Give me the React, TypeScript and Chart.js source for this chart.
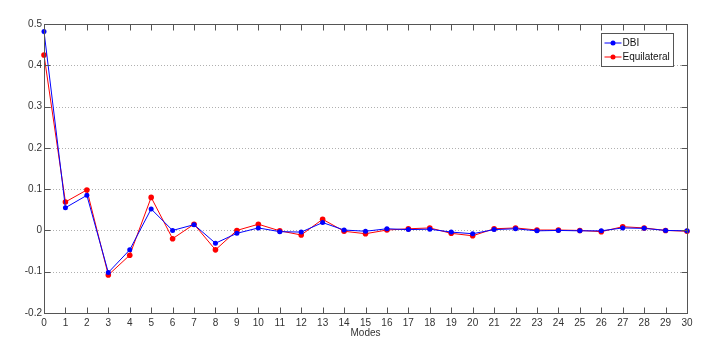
import React, { useEffect, useRef } from "react";
import { Chart, registerables } from "chart.js";

Chart.register(...registerables);

const modes = [0,1,2,3,4,5,6,7,8,9,10,11,12,13,14,15,16,17,18,19,20,21,22,23,24,25,26,27,28,29,30];
const dbi = [0.482,0.055,0.085,-0.102,-0.047,0.052,0.0,0.014,-0.031,-0.007,0.006,-0.003,-0.004,0.019,0.001,-0.002,0.004,0.002,0.003,-0.004,-0.008,0.002,0.004,-0.001,0.0,-0.001,-0.001,0.006,0.005,0.0,-0.001];
const equilateral = [0.425,0.069,0.098,-0.108,-0.060,0.080,-0.020,0.015,-0.047,0.0,0.015,-0.001,-0.011,0.027,-0.002,-0.008,0.001,0.004,0.006,-0.007,-0.013,0.004,0.006,0.001,0.001,0.0,-0.003,0.009,0.006,0.0,-0.002];
const yTicks = [-0.2,-0.1,0,0.1,0.2,0.3,0.4,0.5];
const xTitle = "Modes";

const FONT = "'Liberation Sans', Arial, sans-serif";
const TEXT = "#333";

const framePlugin = {
  id: "frame",
  beforeDatasetsDraw(chart: any) {
    const { ctx, chartArea: a, scales } = chart;
    const y = scales.y;
    ctx.save();
    ctx.strokeStyle = "#b0b0b0";
    ctx.lineWidth = 1;
    ctx.setLineDash([1, 2]);
    yTicks.forEach((v) => {
      if (v <= -0.2 || v >= 0.5) return;
      const py = Math.round(y.getPixelForValue(v)) + 0.5;
      ctx.beginPath();
      ctx.moveTo(a.left, py);
      ctx.lineTo(a.right, py);
      ctx.stroke();
    });
    ctx.restore();
  },
  afterDraw(chart: any) {
    const { ctx, chartArea: a, scales } = chart;
    const x = scales.x, y = scales.y;
    ctx.save();
    ctx.strokeStyle = "#555";
    ctx.lineWidth = 1;
    const L = Math.round(a.left) + 0.5, R = Math.round(a.right) + 0.5;
    const T = Math.round(a.top) + 0.5, B = Math.round(a.bottom) + 0.5;
    ctx.strokeRect(L, T, R - L, B - T);
    const tl = 6;
    ctx.beginPath();
    modes.forEach((m) => {
      const px = Math.round(x.getPixelForValue(m)) + 0.5;
      ctx.moveTo(px, B); ctx.lineTo(px, B - tl);
      ctx.moveTo(px, T); ctx.lineTo(px, T + tl);
    });
    yTicks.forEach((v) => {
      const py = Math.round(y.getPixelForValue(v)) + 0.5;
      ctx.moveTo(L, py); ctx.lineTo(L + tl, py);
      ctx.moveTo(R, py); ctx.lineTo(R - tl, py);
    });
    ctx.stroke();

    // legend
    const lx = 601.5, ly = 33.5, lw = 72, lh = 33;
    ctx.fillStyle = "#fff";
    ctx.fillRect(lx, ly, lw, lh);
    ctx.strokeStyle = "#555";
    ctx.strokeRect(lx, ly, lw, lh);
    chart.data.datasets.forEach((ds: any, i: number) => {
      const cy = ly + 9.5 + i * 14;
      ctx.strokeStyle = ds.borderColor;
      ctx.lineWidth = 1;
      ctx.beginPath();
      ctx.moveTo(lx + 3, cy);
      ctx.lineTo(lx + 20, cy);
      ctx.stroke();
      ctx.fillStyle = ds.backgroundColor;
      ctx.beginPath();
      ctx.arc(lx + 11.5, cy, 2.5, 0, Math.PI * 2);
      ctx.fill();
      ctx.fillStyle = "#111";
      ctx.font = `10px ${FONT}`;
      ctx.textBaseline = "middle";
      ctx.textAlign = "left";
      ctx.fillText(ds.label, lx + 21, cy + 0.5);
    });
    ctx.restore();
  },
};

export default function App() {
  const ref = useRef<HTMLCanvasElement>(null);
  useEffect(() => {
    document.body.style.margin = "0";
    const mk = (arr: number[]) => modes.map((m, i) => ({ x: m, y: arr[i] }));
    const chart = new Chart(ref.current!, {
      type: "line",
      data: {
        datasets: [
          {
            label: "DBI",
            data: mk(dbi),
            borderColor: "#0000ff",
            backgroundColor: "#0000ff",
            borderWidth: 1,
            pointRadius: 2.5,
            pointBorderWidth: 0,
            pointHoverRadius: 2.5,
            clip: false,
          },
          {
            label: "Equilateral",
            data: mk(equilateral),
            borderColor: "#ff0000",
            backgroundColor: "#ff0000",
            borderWidth: 1,
            pointRadius: 2.8,
            pointBorderWidth: 0,
            pointHoverRadius: 2.8,
            clip: false,
          },
        ],
      },
      plugins: [framePlugin],
      options: {
        animation: false,
        responsive: false,
        maintainAspectRatio: false,
        layout: { padding: { left: 0, right: 19, top: 24, bottom: 15 } },
        plugins: { legend: { display: false }, tooltip: { enabled: false } },
        scales: {
          x: {
            type: "linear",
            min: 0,
            max: 30,
            afterBuildTicks: (s: any) => { s.ticks = modes.map((m) => ({ value: m })); },
            afterFit: (s: any) => { s.height = 26; },
            grid: { display: false, drawTicks: false },
            border: { display: false },
            ticks: { color: TEXT, font: { family: FONT, size: 10 }, padding: 4, maxRotation: 0, autoSkip: false },
            title: { display: true, text: xTitle, color: TEXT, font: { family: FONT, size: 10 }, padding: { top: 0, bottom: 0 } },
          },
          y: {
            type: "linear",
            min: -0.2,
            max: 0.5,
            afterBuildTicks: (s: any) => { s.ticks = yTicks.map((v) => ({ value: v })); },
            afterFit: (s: any) => { s.width = 44; },
            grid: { display: false, drawTicks: false },
            border: { display: false },
            ticks: {
              color: TEXT,
              font: { family: FONT, size: 10 },
              padding: 2,
              callback: (v: any) => { const r = Math.round(Number(v) * 10) / 10; return r === 0 ? "0" : String(r); },
            },
          },
        },
      },
    });
    return () => chart.destroy();
  }, []);
  return (
    <div style={{ position: "absolute", left: 0, top: 0, width: 706, height: 354, background: "#fff" }}>
      <canvas ref={ref} width={706} height={354} style={{ width: 706, height: 354 }} />
    </div>
  );
}
